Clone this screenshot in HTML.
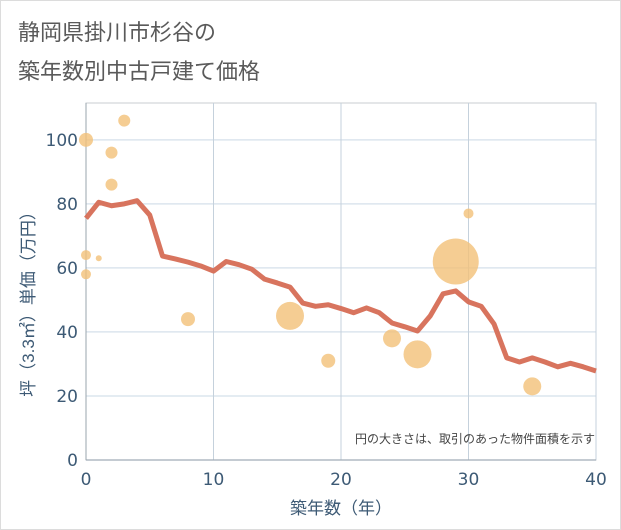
<!DOCTYPE html>
<html><head><meta charset="utf-8"><style>
body{margin:0;background:#fff;}
svg{display:block;font-family:"Liberation Sans","Noto Sans CJK JP",sans-serif;}
.tk{font-family:"DejaVu Sans","Liberation Sans",sans-serif;}
</style></head><body>
<svg id="c" width="621" height="530">
<rect x="0.5" y="0.5" width="620" height="529" fill="#fff" stroke="#dcdcdc"/>
<text x="18" y="40" font-size="22" fill="#5a5a5a">静岡県掛川市杉谷の</text>
<text x="18" y="79" font-size="22" fill="#5a5a5a">築年数別中古戸建て価格</text>
<g id="grid"></g>
<g id="marks"></g>
<text x="595" y="443" font-size="12" fill="#444" text-anchor="end">円の大きさは、取引のあった物件面積を示す</text>
<text x="341" y="514" font-size="17" fill="#3d5a75" text-anchor="middle">築年数（年）</text>
<text transform="translate(34,300) rotate(-90)" font-size="17" fill="#3d5a75" text-anchor="middle">坪（3.3㎡）単価（万円）</text>
</svg>
<script>
const xTicks=[0,10,20,30,40];
const yTicks=[0,20,40,60,80,100];
const lineYears=[0,1,2,3,4,5,6,7,8,9,10,11,12,13,14,15,16,17,18,19,20,21,22,23,24,25,26,27,28,29,30,31,32,33,34,35,36,37,38,39,40];
const lineValues=[75.5,80.5,79.4,80,81,76.5,63.7,62.8,61.8,60.6,59,62,61,59.6,56.5,55.3,54,49,48,48.5,47.3,46,47.5,46,42.8,41.6,40.3,45,51.9,52.8,49.4,48,42.5,31.9,30.6,31.9,30.6,29.1,30.2,29.1,27.8];
const bubbleYears=[0,0,0,1,2,2,3,8,16,19,24,26,29,30,35];
const bubbleValues=[100,64,58,63,96,86,106,44,45,31,38,33,62,77,23];
const bubbleRadii=[7,5,5,3,6,6,6,7,14,7,9,14,23,5,9];
const L=86,R=596,T=103,B=460,xMax=40,yMax=111.5;
const sx=v=>L+(R-L)*v/xMax, sy=v=>B-(B-T)*v/yMax;
const NS="http://www.w3.org/2000/svg";
const g=document.getElementById('grid'), m=document.getElementById('marks');
function mk(p,tag,a){const e=document.createElementNS(NS,tag);for(const k in a)e.setAttribute(k,a[k]);p.appendChild(e);return e;}
mk(g,'rect',{x:L,y:T,width:R-L,height:B-T,fill:'none',stroke:'#c8cdd2'});
yTicks.forEach(v=>{
  const ln=mk(g,'line',{x1:L,x2:R,y1:sy(v),y2:sy(v),stroke:'#dce5ee','stroke-width':1.5});
  
  
  const t=mk(g,'text',{x:L-8,y:sy(v)+6,'font-size':17,fill:'#3d5a75','text-anchor':'end','class':'tk'});
  t.textContent=v;
  
  
});
xTicks.forEach(v=>{
  const ln=mk(g,'line',{x1:sx(v),x2:sx(v),y1:T,y2:B,stroke:'#c5d1dc','stroke-width':1});
  
  
  const t=mk(g,'text',{x:sx(v),y:B+25,'font-size':17,fill:'#3d5a75','text-anchor':'middle','class':'tk'});
  t.textContent=v;
  
  
});
mk(g,'line',{x1:L,x2:L,y1:T,y2:B,stroke:'#9aa4ad'});
mk(g,'line',{x1:L,x2:R,y1:B,y2:B,stroke:'#9aa4ad'});
bubbleYears.forEach((yr,i)=>{
  const c=mk(m,'circle',{cx:sx(yr),cy:sy(bubbleValues[i]),r:bubbleRadii[i],fill:'#f3c078','fill-opacity':0.8});
  
  
});
const p=mk(m,'polyline',{points:lineYears.map((yr,i)=>sx(yr)+','+sy(lineValues[i])).join(' '),fill:'none',stroke:'#d66d55','stroke-width':5,'stroke-linejoin':'round','stroke-opacity':0.95});


</script>
</body></html>
